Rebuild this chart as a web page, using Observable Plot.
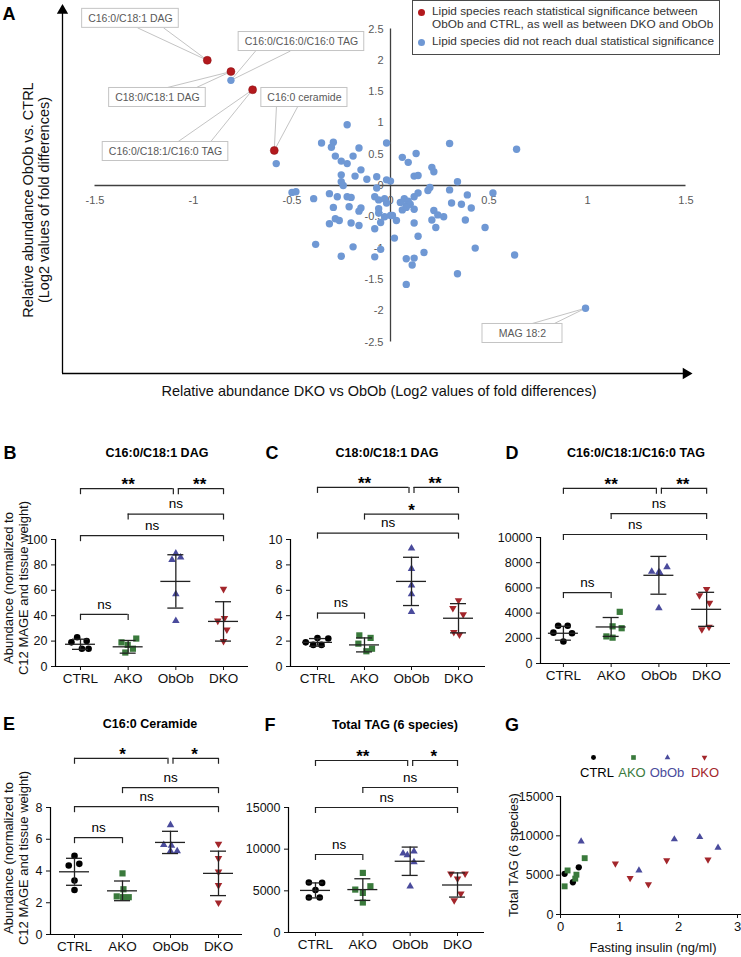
<!DOCTYPE html>
<html><head><meta charset="utf-8">
<script src="https://cdn.jsdelivr.net/npm/d3@7"></script>
<script src="https://cdn.jsdelivr.net/npm/@observablehq/plot@0.6"></script>
<style>
body{margin:0;background:#fff;}
#root{position:relative;width:741px;height:957px;overflow:hidden;font-family:"Liberation Sans",Arial,Helvetica,sans-serif;color:#111;}
.abs{position:absolute;white-space:nowrap;line-height:1;}
.c{transform:translate(-50%,-50%);}
.letter{font-weight:bold;font-size:18px;color:#000;}
.ptitle{font-weight:bold;font-size:12.5px;color:#000;}
.rot{transform:translate(-50%,-50%) rotate(-90deg);}
</style></head><body><div id="root"></div>
<script>
// ---------------- DATA ----------------
// Panel A: volcano-like scatter (log2 fold differences)
const sigNames = ["C16:0/C18:1 DAG","C18:0/C18:1 DAG","C16:0/C18:1/C16:0 TAG","C16:0 ceramide"];
const sigDKOvsObOb = [-0.93,-0.81,-0.70,-0.59];
const sigObObvsCTRL = [2.00,1.82,1.53,0.56];
const otherDKOvsObOb = [-0.58,-0.81,-0.22,-0.35,-0.29,-0.30,-0.16,-0.02,-0.28,-0.19,-0.25,-0.22,-0.15,-0.25,-0.18,-0.25,-0.24,-0.12,-0.07,-0.02,0.00,
 0.06,0.09,0.13,0.30,0.64,0.21,0.22,0.12,0.14,0.34,0.30,0.20,0.19,
 -0.50,-0.48,-0.39,-0.31,-0.27,-0.22,-0.20,-0.29,-0.21,-0.15,-0.16,
 -0.08,-0.06,-0.03,-0.02,-0.06,-0.06,-0.03,0.00,0.03,0.01,
 -0.28,-0.26,-0.31,-0.20,-0.16,-0.05,-0.08,
 0.07,0.09,0.08,0.10,0.06,0.12,0.14,0.12,0.12,0.14,
 0.22,0.21,0.23,0.27,0.24,0.31,0.02,
 -0.38,-0.19,-0.25,-0.08,-0.05,0.08,0.12,0.11,0.17,0.08,0.34,
 0.05,0.08,0.39,0.52,0.36,0.41,0.38,0.48,0.43,0.63,0.99,-0.07];
const otherObObvsCTRL = [0.35,1.68,0.97,0.68,0.69,0.61,0.60,0.68,0.47,0.47,0.39,0.35,0.25,0.17,0.15,0.06,0.00,0.10,0.14,0.09,0.07,
 0.45,0.37,0.51,0.67,0.58,0.29,0.22,0.15,0.16,0.06,-0.07,-0.03,-0.08,
 -0.11,-0.10,-0.21,-0.13,-0.18,-0.18,-0.19,-0.35,-0.34,-0.36,-0.41,
 -0.18,-0.23,-0.21,-0.28,-0.37,-0.44,-0.50,-0.48,-0.56,-0.48,
 -0.53,-0.56,-0.61,-0.60,-0.64,-0.59,-0.69,
 -0.21,-0.25,-0.32,-0.30,-0.39,-0.38,-0.12,-0.18,-0.60,-0.81,
 -0.40,-0.55,-0.67,-0.50,-0.47,-0.28,-0.84,
 -0.94,-0.98,-1.13,-1.14,-1.02,-1.17,-1.16,-1.27,-1.07,-1.58,-1.41,
 -0.27,-0.35,-0.15,-0.12,-0.30,-0.36,-0.55,-0.67,-1.00,-1.11,-1.96,-0.04];
const A_xTicks = [-1.5,-1,-0.5,0,0.5,1,1.5];
const A_yTicks = [-2.5,-2,-1.5,-1,-0.5,0,0.5,1,1.5,2,2.5];
const calloutText = ["C16:0/C18:1 DAG","C16:0/C16:0/C16:0 TAG","C18:0/C18:1 DAG","C16:0/C18:1/C16:0 TAG","C16:0 ceramide","MAG 18:2"];
const calloutPointX = [-0.93,-0.81,-0.81,-0.70,-0.59,0.99];
const calloutPointY = [2.00,1.68,1.82,1.53,0.56,-1.96];
const calloutBoxX = [-1.32,-0.452,-1.183,-1.142,-0.437,0.67];
const calloutBoxY = [2.67,2.30,1.406,0.543,1.406,-2.364];
const calloutBaseX1 = [-1.284,-0.685,-1.142,-1.081,-0.579,0.711];
const calloutBaseX2 = [-1.152,-0.508,-0.99,-0.914,-0.472,0.827];

// Panels B-F: groups, individual values, horizontal spread, mean, SD, significance brackets
const groups = ["CTRL","AKO","ObOb","DKO"];

const B_values = [[23,20,19,14,14],[22,19,17,14,11],[89,84,86,57,36],[61,38,36,29,20]];
const B_spread = [[-0.07,0.13,-0.19,0.17,0.03],[0.17,-0.14,-0.01,0.10,-0.06],[0,-0.08,0.10,0,0],[0,0.02,-0.12,0.07,0]];
const B_mean = [17.5,15.5,67,35.5];
const B_sd = [4,5,21,15.5];
const B_sig = [[0,2,"**",140],[2,3,"**",140],[1,3,"ns",120],[0,3,"ns",103],[0,1,"ns",41]];

const C_values = [[2.25,2.2,1.9,1.7,1.7],[2.45,2.25,1.8,1.2,1.4],[9.3,7.7,6.4,5.7,4.3],[5.2,4.6,4.1,2.7,2.5]];
const C_spread = [[0,0.23,-0.25,-0.09,0.085],[-0.11,0.13,-0.13,0.04,0.16],[0,0,0,0,0],[0,-0.12,0.10,-0.10,0.02]];
const C_mean = [1.9,1.7,6.7,3.8];
const C_sd = [0.3,0.55,1.9,1.15];
const C_sig = [[0,2,"**",14.1],[2,3,"**",14.1],[1,3,"*",12.0],[0,3,"ns",10.5],[0,1,"ns",4.2]];

const D_values = [[3000,3000,2450,2400,1750],[4100,2950,2800,2150,2050],[7300,7250,7650,7200,4400],[5900,5400,4800,2900,2700]];
const D_spread = [[-0.11,0.09,-0.21,0.18,0],[0.18,0.03,0.22,-0.10,0.03],[-0.15,0,0.17,0.02,0],[0,-0.15,0.06,0.05,-0.10]];
const D_mean = [2400,2900,7000,4300];
const D_sd = [550,750,1500,1350];
const D_sig = [[0,2,"**",13900],[2,3,"**",13900],[1,3,"ns",11900],[0,3,"ns",10240],[0,1,"ns",5630]];

const E_values = [[4.95,4.45,4.35,3.4,2.8],[3.85,2.85,2.4,2.35,2.35],[6.9,5.65,5.6,5.25,5.25],[5.7,4.8,3.95,3.1,2.0]];
const E_spread = [[0,0.10,-0.12,0,0],[0,0.02,-0.12,0.13,0.01],[0,-0.14,0.02,0,0.14],[0,0,0,0,0]];
const E_mean = [3.95,2.75,5.8,3.85];
const E_sd = [0.85,0.62,0.7,1.4];
const E_sig = [[0,2,"*",11.1],[2,3,"*",11.1],[1,3,"ns",9.25],[0,3,"ns",8.05],[0,1,"ns",6.1]];

const F_values = [[6000,5950,5100,4200,4200],[7150,5550,5150,4750,3600],[9500,9300,9750,8450,5550],[7050,7050,6450,4650,3850]];
const F_spread = [[-0.14,0.14,0,-0.14,0.09],[0,0.16,-0.16,0,0],[-0.15,-0.06,0.08,0.08,0],[-0.14,0.16,0,0.07,-0.07]];
const F_mean = [5050,5150,8550,5700];
const F_sd = [900,1300,1700,1450];
const F_sig = [[0,2,"**",20640],[2,3,"*",20640],[1,3,"ns",17400],[0,3,"ns",15000],[0,1,"ns",9360]];

// Panel G: fasting insulin vs total TAG
const G_insulin = [[0.07,0.21,0.31],[0.07,0.12,0.27,0.25,0.41],[0.35,1.33,1.93,2.36,2.67],[0.93,1.18,1.49,1.80,2.50]];
const G_tag = [[5170,4100,6000],[3580,5600,5060,4560,7160],[9300,5600,9560,9850,8500],[6470,4640,3830,6890,6980]];
const G_xTicks = [0,1,2,3];
const G_yTicks = [0,5000,10000,15000];

// ---------------- STYLE ----------------
const FONT = '"Liberation Sans", Arial, Helvetica, sans-serif';
const BLUE = "#6f98d4", RED = "#b3191d";
const COL = ["#000000","#3a7a3c","#4a4b9c","#a3262b"];
const SYM = ["circle","square","triangle","triangle"];
const ROT = [0,0,0,180];
const SIZE = [3.3,3.5,2.8,2.8];
const root = document.getElementById("root");

function place(el, left, top){ el.style.position="absolute"; el.style.left=left+"px"; el.style.top=top+"px"; el.style.overflow="visible"; root.appendChild(el); }
function label(text, x, y, cls, extra){ const d=document.createElement("div"); d.className="abs "+cls; d.textContent=text; d.style.left=x+"px"; d.style.top=y+"px"; if(extra) Object.assign(d.style, extra); root.appendChild(d); return d; }

// ---------------- PANEL A ----------------
(function(){
  const W=741,H=400,mL=94.5,mR=55.5,mT=28.5,mB=58.5;
  const sx=(W-mL-mR)/3, sy=(H-mT-mB)/5;
  const frameL=(62-mL)/sx-1.5, frameB=2.5-(373-mT)/sy, frameT=2.5-(10-mT)/sy, frameR=1.5;
  const ctx=document.createElement("canvas").getContext("2d"); ctx.font="10.5px "+FONT;
  const callouts=calloutText.map((t,i)=>{
    const w=Math.max(80, ctx.measureText(t).width+12)/sx/2, h=19/sy/2;
    const above=calloutPointY[i]>calloutBoxY[i];
    return {t, px:calloutPointX[i], py:calloutPointY[i], bx:calloutBoxX[i], by:calloutBoxY[i],
      x1:calloutBoxX[i]-w, x2:calloutBoxX[i]+w, y1:calloutBoxY[i]-h, y2:calloutBoxY[i]+h,
      b1:calloutBaseX1[i], b2:calloutBaseX2[i], be: above? calloutBoxY[i]+h : calloutBoxY[i]-h};
  });
  const others=otherDKOvsObOb.map((x,i)=>({x,y:otherObObvsCTRL[i]}));
  const sigs=sigNames.map((n,i)=>({n,x:sigDKOvsObOb[i],y:sigObObvsCTRL[i]}));
  const p=Plot.plot({
    width:W,height:H,marginLeft:mL,marginRight:mR,marginTop:mT,marginBottom:mB,
    x:{domain:[-1.5,1.5],axis:null}, y:{domain:[-2.5,2.5],axis:null},
    style:{fontFamily:FONT,background:"transparent",overflow:"visible"},
    marks:[
      Plot.ruleX([frameL],{y1:frameB,y2:frameT,stroke:"#000",strokeWidth:1.3}),
      Plot.ruleY([frameB],{x1:frameL,x2:frameR,stroke:"#000",strokeWidth:1.3}),
      Plot.dot([0],{x:frameL,y:frameT,symbol:"triangle",r:4.2,fill:"#000"}),
      Plot.dot([0],{x:frameR,y:frameB,symbol:"triangle",r:4.2,fill:"#000",rotate:90}),
      Plot.ruleY([0],{stroke:"#404040",strokeWidth:1.3}),
      Plot.ruleX([0],{stroke:"#404040",strokeWidth:1.3}),
      Plot.text(A_xTicks,{x:d=>d,y:0,text:d=>String(d),dy:15,fontSize:11,fill:"#595959"}),
      Plot.text(A_yTicks,{x:0,y:d=>d,text:d=>String(d),dx:-7,textAnchor:"end",fontSize:11,fill:"#595959"}),
      Plot.link(callouts,{x1:"b1",y1:"be",x2:"px",y2:"py",stroke:"#c4c4c4",strokeWidth:1}),
      Plot.link(callouts,{x1:"b2",y1:"be",x2:"px",y2:"py",stroke:"#c4c4c4",strokeWidth:1}),
      Plot.rect(callouts,{x1:"x1",x2:"x2",y1:"y1",y2:"y2",fill:"#fff",stroke:"#c4c4c4",strokeWidth:1}),
      Plot.text(callouts,{x:"bx",y:"by",text:"t",fontSize:10.5,fill:"#595959"}),
      Plot.dot(others,{x:"x",y:"y",r:3.7,fill:BLUE}),
      Plot.dot(sigs,{x:"x",y:"y",r:4,fill:RED,stroke:"#8a1014",strokeWidth:0.5})
    ]
  });
  place(p,0,0);
  label("A",9,14,"c letter");
  label("Relative abundance DKO vs ObOb (Log2 values of fold differences)",379,391,"c",{fontSize:"14.5px"});
  label("Relative abundance ObOb vs. CTRL",28,200,"rot",{fontSize:"14.5px"});
  label("(Log2 values of fold differences)",44,200,"rot",{fontSize:"14.5px"});
  // legend
  const box=document.createElement("div"); box.className="abs";
  Object.assign(box.style,{left:"412px",top:"0px",width:"308px",height:"55px",border:"1px solid #4a4a4a",boxSizing:"border-box",background:"#fff"});
  root.appendChild(box);
  const dot=(x,y,c)=>{const d=document.createElement("div");d.className="abs";Object.assign(d.style,{left:(x-3.5)+"px",top:(y-3.5)+"px",width:"7px",height:"7px",borderRadius:"50%",background:c});root.appendChild(d);};
  dot(421,12,RED); dot(421,42,BLUE);
  const ls={fontSize:"11.8px",color:"#333"};
  label("Lipid species reach statistical significance between",432,6,"",ls);
  label("ObOb and CTRL, as well as between DKO and ObOb",432,19,"",ls);
  label("Lipid species did not reach dual statistical significance",432,36,"",ls);
})();

// ---------------- DOT PANELS ----------------
function dotPanel(o){
  const pxX=(o.width-o.mL-o.mR)/(o.xDom[1]-o.xDom[0]);
  const pxY=(o.height-o.mT-o.mB)/(o.yDom[1]-o.yDom[0]);
  const rows=o.values.flatMap((vals,i)=>vals.map((v,j)=>({g:i,x:i+o.spread[i][j],y:v})));
  const stats=o.mean.map((m,i)=>({i,m,lo:m-o.sd[i],hi:m+o.sd[i]}));
  const mh=15/pxX, ch=8/pxX, gap=2.5/pxX, drop=6/pxY;
  const br=o.sig.map(([a,b,lab,y])=>({x1:a+(a===2?gap:0),x2:b-(b===2?gap:0),y,lab,mid:(a+b)/2,yd:y-drop}));
  const marks=[
    Plot.ruleX([o.xDom[0]],{stroke:"#000",strokeWidth:1.2}),
    Plot.ruleY([o.yDom[0]],{stroke:"#000",strokeWidth:1.2}),
    Plot.axisY({ticks:o.yTicks,tickSize:4,tickPadding:4,fontSize:12.5,label:null,tickFormat:d=>String(d)}),
    Plot.axisX({ticks:[0,1,2,3],tickFormat:i=>groups[i],tickSize:4,tickPadding:3,fontSize:13.5,label:null})
  ];
  groups.forEach((g,i)=>marks.push(Plot.dot(rows.filter(r=>r.g===i),{x:"x",y:"y",symbol:SYM[i],rotate:ROT[i],fill:COL[i],r:SIZE[i]})));
  const ls={stroke:"#222",strokeWidth:1.3};
  marks.push(Plot.ruleX(stats,{x:"i",y1:"lo",y2:"hi",...ls}));
  marks.push(Plot.ruleY(stats,{y:"m",x1:d=>d.i-mh,x2:d=>d.i+mh,...ls}));
  marks.push(Plot.ruleY(stats,{y:"lo",x1:d=>d.i-ch,x2:d=>d.i+ch,...ls}));
  marks.push(Plot.ruleY(stats,{y:"hi",x1:d=>d.i-ch,x2:d=>d.i+ch,...ls}));
  const bs={stroke:"#222",strokeWidth:1.2};
  marks.push(Plot.ruleY(br,{y:"y",x1:"x1",x2:"x2",...bs}));
  marks.push(Plot.ruleX(br,{x:"x1",y1:"y",y2:"yd",...bs}));
  marks.push(Plot.ruleX(br,{x:"x2",y1:"y",y2:"yd",...bs}));
  marks.push(Plot.text(br.filter(d=>d.lab!=="ns"),{x:"mid",y:"y",text:"lab",dy:-4,fontSize:17,fontWeight:"bold",fill:"#000"}));
  marks.push(Plot.text(br.filter(d=>d.lab==="ns"),{x:"mid",y:"y",text:"lab",dy:-10,fontSize:13.5,fill:"#000"}));
  const p=Plot.plot({width:o.width,height:o.height,marginLeft:o.mL,marginRight:o.mR,marginTop:o.mT,marginBottom:o.mB,
    x:{domain:o.xDom},y:{domain:o.yDom},style:{fontFamily:FONT,background:"transparent",overflow:"visible",color:"#111"},marks});
  place(p,o.left,o.top);
}

dotPanel({left:0,top:440,width:250,height:260,mL:55,mR:2,mT:99,mB:34,xDom:[-0.524,3.524],yDom:[0,100],yTicks:[0,20,40,60,80,100],
  values:B_values,spread:B_spread,mean:B_mean,sd:B_sd,sig:B_sig});
dotPanel({left:250,top:440,width:250,height:260,mL:40,mR:15,mT:99,mB:34,xDom:[-0.574,3.574],yDom:[0,10],yTicks:[0,2,4,6,8,10],
  values:C_values,spread:C_spread,mean:C_mean,sd:C_sd,sig:C_sig});
dotPanel({left:490,top:440,width:251,height:260,mL:50,mR:11,mT:97,mB:37,xDom:[-0.48,3.5],yDom:[0,10000],yTicks:[0,2000,4000,6000,8000,10000],
  values:D_values,spread:D_spread,mean:D_mean,sd:D_sd,sig:D_sig});
dotPanel({left:0,top:690,width:250,height:267,mL:50,mR:8,mT:117,mB:23,xDom:[-0.5,3.5],yDom:[0,8],yTicks:[0,2,4,6,8],
  values:E_values,spread:E_spread,mean:E_mean,sd:E_sd,sig:E_sig});
dotPanel({left:250,top:690,width:250,height:267,mL:38,mR:16,mT:117,mB:25,xDom:[-0.57,3.57],yDom:[0,15000],yTicks:[0,5000,10000,15000],
  values:F_values,spread:F_spread,mean:F_mean,sd:F_sd,sig:F_sig});

label("B",10,453,"c letter"); label("C16:0/C18:1 DAG",157,453,"c ptitle");
label("C",272,453,"c letter"); label("C18:0/C18:1 DAG",387,453,"c ptitle");
label("D",512,453,"c letter"); label("C16:0/C18:1/C16:0 TAG",636,453,"c ptitle");
label("E",9,724,"c letter"); label("C16:0 Ceramide",150,724,"c ptitle");
label("F",270,725,"c letter"); label("Total TAG (6 species)",395,725,"c ptitle");
label("G",512,725,"c letter");
label("Abundance (normalized to",8,588,"rot",{fontSize:"13px"});
label("C12 MAGE and tissue weight)",23,588,"rot",{fontSize:"13px"});
label("Abundance (normalized to",8,858,"rot",{fontSize:"13px"});
label("C12 MAGE and tissue weight)",23,858,"rot",{fontSize:"13px"});

// ---------------- PANEL G ----------------
(function(){
  const rows=G_insulin.flatMap((xs,i)=>xs.map((x,j)=>({g:i,x,y:G_tag[i][j]})));
  const marks=[
    Plot.ruleX([0],{stroke:"#000",strokeWidth:1.2}),
    Plot.ruleY([0],{stroke:"#000",strokeWidth:1.2}),
    Plot.axisY({ticks:G_yTicks,tickSize:4,tickPadding:3,fontSize:12.5,label:null,tickFormat:d=>String(d)}),
    Plot.axisX({ticks:G_xTicks,tickSize:4,tickPadding:3,fontSize:13,label:null,tickFormat:d=>String(d)})
  ];
  groups.forEach((g,i)=>marks.push(Plot.dot(rows.filter(r=>r.g===i),{x:"x",y:"y",symbol:SYM[i],rotate:ROT[i],fill:COL[i],r:SIZE[i]*0.95})));
  const p=Plot.plot({width:251,height:267,marginLeft:70,marginRight:0,marginTop:106,marginBottom:43,
    x:{domain:[0,3.068]},y:{domain:[0,15000]},style:{fontFamily:FONT,background:"transparent",overflow:"visible",color:"#111"},marks});
  place(p,490,690);
  label("Total TAG (6 species)",513,855,"rot",{fontSize:"13px"});
  label("Fasting insulin (ng/ml)",653,947,"c",{fontSize:"13px"});
  // legend: symbol above label
  const lx=[597,632,667,705], sx=[593,633,667,704];
  groups.forEach((g,i)=>{
    const leg=Plot.plot({width:14,height:14,margin:0,x:{domain:[0,1],axis:null},y:{domain:[0,1],axis:null},
      style:{background:"transparent",overflow:"visible"},
      marks:[Plot.dot([0],{x:0.5,y:0.5,symbol:SYM[i],rotate:ROT[i],fill:COL[i],r:SIZE[i]*0.75})]});
    place(leg,sx[i]-7,757-7);
    label(g,lx[i],772,"c",{fontSize:"13px",color:COL[i]});
  });
})();
</script></body></html>
